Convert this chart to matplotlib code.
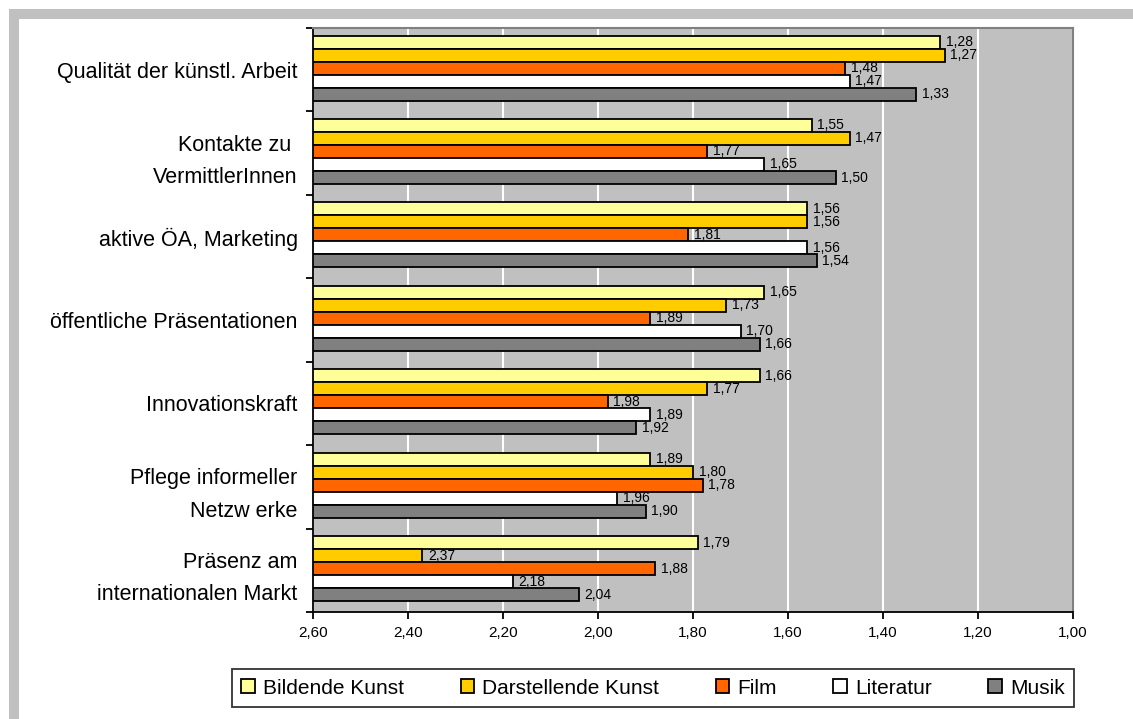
import matplotlib
matplotlib.use("Agg")
import matplotlib.pyplot as plt
from matplotlib.patches import Rectangle
import numpy as np

plt.rcParams["font.family"] = ["Liberation Sans", "DejaVu Sans"]

categories = [
    "Qualität der künstl. Arbeit",
    "Kontakte zu \nVermittlerInnen",
    "aktive ÖA, Marketing",
    "öffentliche Präsentationen",
    "Innovationskraft",
    "Pflege informeller\nNetzw erke",
    "Präsenz am\ninternationalen Markt",
]
series_names = ["Bildende Kunst", "Darstellende Kunst", "Film", "Literatur", "Musik"]
bildende = [1.28, 1.55, 1.56, 1.65, 1.66, 1.89, 1.79]
darstellende = [1.27, 1.47, 1.56, 1.73, 1.77, 1.80, 2.37]
film = [1.48, 1.77, 1.81, 1.89, 1.98, 1.78, 1.88]
literatur = [1.47, 1.65, 1.56, 1.70, 1.89, 1.96, 2.18]
musik = [1.33, 1.50, 1.54, 1.66, 1.92, 1.90, 2.04]
colors = ["#FFFF99", "#FFCC00", "#FF6600", "#FFFFFF", "#808080"]
x_ticks = [2.6, 2.4, 2.2, 2.0, 1.8, 1.6, 1.4, 1.2, 1.0]

series = [bildende, darstellende, film, literatur, musik]
base = 2.6

fig = plt.figure(figsize=(11.33, 7.19), dpi=100)
W, H = 1133, 719

# grey outer frame (top and left bands)
fig.add_artist(Rectangle((9 / W, 1 - 19 / H), 1 - 9 / W, 10 / H,
                         transform=fig.transFigure, color="#C0C0C0", lw=0))
fig.add_artist(Rectangle((9 / W, 0), 10 / W, 1 - 9 / H,
                         transform=fig.transFigure, color="#C0C0C0", lw=0))

ax = fig.add_axes([313 / W, 1 - 612 / H, (1073 - 313) / W, (612 - 28) / H])
ax.set_facecolor("#C0C0C0")

n = len(series)
h = 0.156
y = np.arange(len(categories))
for k, (vals, col, name) in enumerate(zip(series, colors, series_names)):
    pos = y + (k - (n - 1) / 2) * h - 0.02
    widths = [v - base for v in vals]
    ax.barh(pos, widths, left=base, height=h, color=col, edgecolor="black",
            linewidth=1.3, label=name, zorder=3)
    for p, v in zip(pos, vals):
        ax.annotate(f"{v:.2f}".replace(".", ","), xy=(v, p), xytext=(4, 0),
                    textcoords="offset points", ha="left", va="center",
                    fontsize=10, zorder=4)

ax.set_xlim(2.6, 1.0)
ax.set_ylim(len(categories) - 0.5, -0.5)
ax.set_xticks(x_ticks)
ax.set_xticklabels([f"{t:.2f}".replace(".", ",") for t in x_ticks], fontsize=11)
ax.xaxis.grid(True, color="white", lw=1.5, zorder=1)
ax.set_axisbelow(True)

ax.set_yticks(y)
ax.set_yticklabels(categories, fontsize=15.5, linespacing=1.7)
ax.set_yticks(np.arange(len(categories) + 1) - 0.5, minor=True)
ax.tick_params(axis="y", which="major", length=0, pad=11)
ax.tick_params(axis="y", which="minor", length=5, width=1.3, direction="out")
ax.tick_params(axis="x", which="major", length=5, width=1.3, direction="out", pad=5)

for s in ["top", "right"]:
    ax.spines[s].set_color("#808080")
    ax.spines[s].set_linewidth(1.5)
for s in ["left", "bottom"]:
    ax.spines[s].set_color("black")
    ax.spines[s].set_linewidth(1.3)

leg = fig.legend(loc="center", bbox_to_anchor=(653 / W, 1 - 688 / H), ncol=5,
                 fontsize=15, frameon=True, fancybox=False, edgecolor="black",
                 handlelength=0.65, handleheight=0.65, handletextpad=0.4,
                 columnspacing=2.7, borderpad=0.45, borderaxespad=0)
leg.get_frame().set_linewidth(1.3)

fig.savefig("out.png", dpi=100)
